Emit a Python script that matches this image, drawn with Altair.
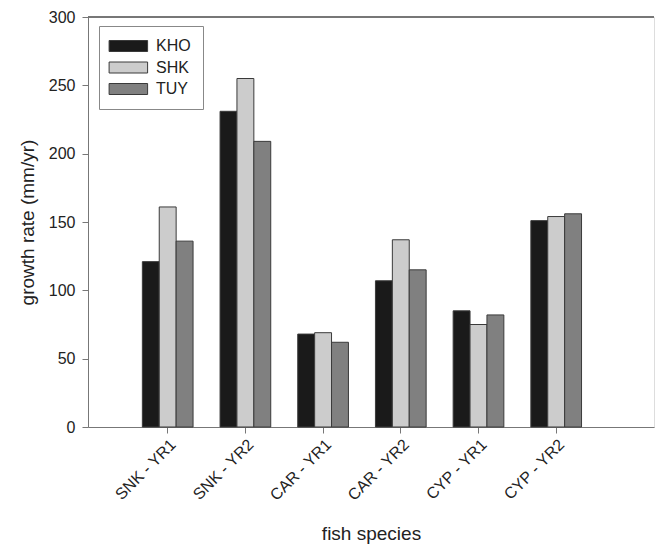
import altair as alt
import pandas as pd

categories = ["SNK - YR1", "SNK - YR2", "CAR - YR1", "CAR - YR2", "CYP - YR1", "CYP - YR2"]
series = ["KHO", "SHK", "TUY"]
kho = [121, 231, 68, 107, 85, 151]
shk = [161, 255, 69, 137, 75, 154]
tuy = [136, 209, 62, 115, 82, 156]
colors = ["#1a1a1a", "#cccccc", "#808080"]

rows = []
for s, vals in zip(series, [kho, shk, tuy]):
    for c, v in zip(categories, vals):
        rows.append({"species": c, "site": s, "rate": v})
df = pd.DataFrame(rows)

W, H = 566, 410
FONT = "Liberation Sans"
AX = "#777777"
TXT = "#222222"

bars = alt.Chart(df).mark_bar(stroke="#3a3a3a", strokeWidth=1).encode(
    x=alt.X("species:N", sort=categories,
            scale=alt.Scale(paddingInner=0.3475, paddingOuter=0.816, align=0.4286),
            axis=alt.Axis(title="fish species", labelAngle=-45, labelFontSize=16,
                          titleFontSize=19, titleFontWeight="normal", titlePadding=21,
                          domainColor=AX, tickColor=AX, tickSize=6, labelPadding=3,
                          labelColor=TXT, titleColor=TXT, grid=False)),
    xOffset=alt.XOffset("site:N", sort=series, scale=alt.Scale(paddingInner=0, paddingOuter=0)),
    y=alt.Y("rate:Q", scale=alt.Scale(domain=[0, 300], nice=False),
            axis=alt.Axis(title="growth rate (mm/yr)", values=[0, 50, 100, 150, 200, 250, 300],
                          labelFontSize=16, titleFontSize=19, titleFontWeight="normal",
                          titlePadding=11, domainColor=AX, tickColor=AX, tickSize=6,
                          labelPadding=7, labelColor=TXT, titleColor=TXT,
                          grid=False)),
    color=alt.Color("site:N", sort=series, scale=alt.Scale(domain=series, range=colors),
                    legend=alt.Legend(title=None, orient="none", legendX=11, legendY=9,
                                      symbolType="M-1.8,-1L5.2,-1L5.2,1L-1.8,1Z",
                                      symbolSize=121, symbolStrokeColor="#3a3a3a",
                                      symbolStrokeWidth=1, labelFontSize=16,
                                      labelColor=TXT, labelOffset=29,
                                      rowPadding=5.5, padding=12,
                                      strokeColor="#888888", fillColor="white")),
)

top = alt.Chart(df).mark_rule(color=AX, strokeWidth=1.5).encode(y=alt.datum(300))

chart = alt.layer(bars, top).properties(
    width=W, height=H,
    padding={"left": 10, "top": 1, "right": 0, "bottom": 0},
).configure_view(stroke=None).configure(font=FONT)

chart.save("out.html", embed_options={"renderer": "svg", "actions": False})
